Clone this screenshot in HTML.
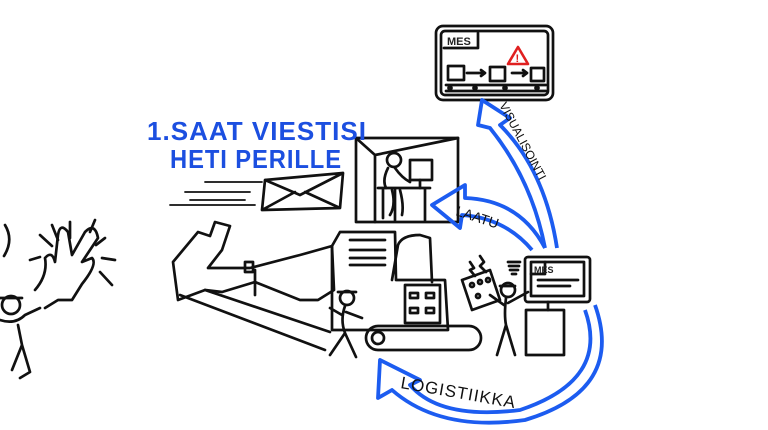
<!DOCTYPE html>
<html><head><meta charset="utf-8"><style>
html,body{margin:0;padding:0;background:#fff;width:768px;height:430px;overflow:hidden}
svg{display:block}
text{font-family:"Liberation Sans",sans-serif}
</style></head><body>
<svg width="768" height="430" viewBox="0 0 768 430" xmlns="http://www.w3.org/2000/svg">
<g fill="none" stroke="#111" stroke-width="2.7" stroke-linecap="round" stroke-linejoin="round">
<!-- MES top screen -->
<rect x="436" y="26" width="117" height="74" rx="7"/>
<rect x="441" y="31" width="107" height="64" rx="4"/>
<path d="M444 48 H478 V33"/>
<rect x="448" y="66" width="16" height="14"/>
<rect x="490" y="67" width="15" height="14"/>
<rect x="531" y="68" width="13" height="13"/>
<path d="M467 73 H485 M481 70 L485 73 L481 76 M512 73 H527 M523 70 L527 73 L523 76"/>
<path d="M446 85 H546 M446 91 H546"/>
<circle cx="450" cy="88" r="1.5"/><circle cx="475" cy="88" r="1.5"/><circle cx="505" cy="88" r="1.5"/><circle cx="537" cy="88" r="1.5"/>
<!-- envelope -->
<path d="M265 180 L343 173 L340 208 L262 210 Z M265 180 L300 195 L343 173 M262 210 L295 192 M340 208 L305 192"/>
<path d="M205 182 H262 M185 192 H250 M170 205 H255 M190 200 H245" stroke-width="1.8"/>
<!-- office -->
<rect x="356" y="138" width="102" height="84"/>
<path d="M356 138 L375 155 M458 138 L375 155 M375 155 V222"/>
<rect x="410" y="160" width="22" height="20"/><path d="M420 180 V188"/>
<path d="M378 188 H430 M383 188 V218 M425 188 V220 M395 188 V220"/>
<circle cx="394" cy="160" r="7"/>
<path d="M388 168 Q382 180 386 188 M395 168 Q402 178 410 182 M392 190 Q396 205 390 215 M400 190 Q404 205 402 215"/>
<!-- excavator arm -->
<path d="M173 262 L198 232 L210 236 L215 222 L230 226 L222 250 L208 268 L250 268 L300 255 L332 246 L334 290 L318 300 L300 300 L255 282 L222 292 L205 290 L178 300 Z"/>
<path d="M180 295 L325 350 M205 290 L330 332 M255 270 L255 295"/>
<rect x="245" y="262" width="8" height="10"/>
<!-- body -->
<path d="M332 246 L340 232 L395 232 L396 280 L445 280 L448 330 L365 330 L332 330 Z"/>
<path d="M350 240 H385 M350 250 H385 M350 258 H385 M350 265 H385"/>
<path d="M392 280 L398 245 Q402 235 420 235 L430 238 L432 282"/>
<rect x="405" y="285" width="35" height="38"/>
<rect x="410" y="293" width="8" height="5"/><rect x="426" y="293" width="8" height="5"/><rect x="410" y="308" width="8" height="5"/><rect x="426" y="308" width="8" height="5"/>
<rect x="366" y="326" width="115" height="24" rx="12"/>
<circle cx="378" cy="338" r="6"/>
<!-- woman worker -->
<circle cx="347" cy="298" r="7"/><path d="M338 292 H356"/>
<path d="M345 306 Q340 320 345 333 L330 355 M345 333 L356 357 M342 315 L330 308 M346 312 L362 318"/>
<!-- right worker -->
<circle cx="508" cy="290" r="7"/><path d="M500 286 H515"/>
<path d="M506 298 Q504 315 506 325 L497 355 M506 325 L515 355 M504 305 L490 295 M508 303 L528 292"/>
<path d="M462 280 L490 270 L500 300 L472 310 Z"/>
<circle cx="472" cy="285" r="2"/><circle cx="480" cy="282" r="2"/><circle cx="488" cy="280" r="2"/><circle cx="478" cy="296" r="2"/>
<path d="M470 262 L474 268 L470 270 L475 276 M480 256 L484 262 L480 266 L486 272 M508 262 H520 M509 266 H519 M510 270 H518 M512 274 H516"/>
<rect x="525" y="257" width="65" height="45" rx="3"/>
<rect x="531" y="262" width="53" height="34"/>
<path d="M531 274 H545 V262 M538 280 H578 M538 286 H570 M548 302 V310"/>
<rect x="526" y="310" width="38" height="45"/>
<!-- left figure -->
<path d="M5 225 Q14 240 4 256"/>
<path d="M35 290 Q48 275 45 258 Q52 250 55 262 L58 235 Q60 222 68 232 L72 255 L85 232 Q95 222 98 238 L82 262 L92 258 Q98 264 82 284 L72 300 L58 300 L45 308"/>
<path d="M52 225 L58 240 M40 235 L52 246 M70 222 V238 M95 220 L90 232 M105 238 L96 245 M115 260 L102 258 M112 285 L100 272 M30 260 L40 257"/>
<circle cx="11" cy="305" r="9"/><path d="M0 298 H22 M0 320 Q15 325 25 315 L40 308 M18 325 L22 345 L12 370 M22 345 L30 372 L20 378"/>
</g>
<g fill="#222" font-weight="bold">
<text x="447" y="45" font-size="11">MES</text>
<text x="534" y="273" font-size="9">MES</text>
</g>
<!-- warning -->
<path d="M518 47 L528 64 L508 64 Z" fill="none" stroke="#e02020" stroke-width="2.6" stroke-linejoin="round"/>
<text x="515.5" y="62" font-size="11" fill="#e02020" font-weight="bold">!</text>
<!-- title -->
<g fill="#1c4fe0" font-weight="bold" font-size="26" letter-spacing="1">
<text x="147" y="140" textLength="220" lengthAdjust="spacingAndGlyphs">1.SAAT VIESTISI</text>
<text x="170" y="168" textLength="172" lengthAdjust="spacingAndGlyphs">HETI PERILLE</text>
</g>
<!-- blue arrows -->
<g fill="none" stroke="#1c5cf0" stroke-width="3.8" stroke-linejoin="round">
<path d="M545 248 Q520 200 465 198 L465 185 L432 205 L460 228 L462 215 Q505 218 532 250"/>
<path d="M557 248 Q545 170 500 125 L510 118 L482 100 L478 125 L490 128 Q532 180 545 248"/>
<path d="M585 310 Q610 380 520 410 Q440 420 410 385 L420 380 L380 360 L378 398 L392 390 Q440 432 525 420 Q625 390 595 305"/>
</g>
<g fill="#111" font-size="14">
<text x="455" y="215" transform="rotate(18 455 215)">LAATU</text>
<text x="499" y="105" transform="rotate(62 499 105)" font-size="12">VISUALISOINTI</text>
<text x="400" y="388" transform="rotate(10 400 388)" font-size="17" letter-spacing="1">LOGISTIIKKA</text>
</g>
</svg>
</body></html>
